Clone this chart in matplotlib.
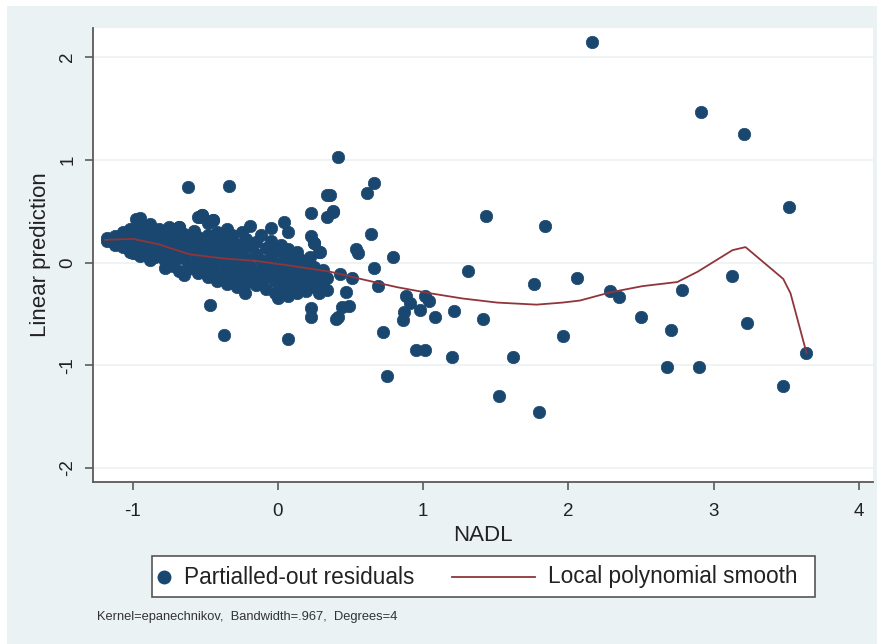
import matplotlib
matplotlib.use("Agg")
import matplotlib.pyplot as plt
from matplotlib.patches import Rectangle
from matplotlib.lines import Line2D

# ---------------- data ----------------
# dense cluster of partialled-out residuals (NADL, linear prediction)
cluster_x = [
    -1.18, -1.18,
    -1.12, -1.12, -1.12,
    -1.07, -1.07, -1.07,
    -1.02, -1.02, -1.02, -1.02,
    -0.98, -0.98, -0.98, -0.98, -0.98,
    -0.95, -0.95, -0.95, -0.95, -0.95,
    -0.92, -0.92, -0.92, -0.92,
    -0.88, -0.88, -0.88, -0.88, -0.88,
    -0.85, -0.85, -0.85, -0.85,
    -0.82, -0.82, -0.82, -0.82,
    -0.78, -0.78, -0.78, -0.78, -0.78,
    -0.75, -0.75, -0.75, -0.75,
    -0.72, -0.72, -0.72, -0.72,
    -0.68, -0.68, -0.68, -0.68, -0.68,
    -0.65, -0.65, -0.65, -0.65,
    -0.62, -0.62, -0.62, -0.62,
    -0.58, -0.58, -0.58, -0.58,
    -0.55, -0.55, -0.55, -0.55, -0.55,
    -0.52, -0.52, -0.52, -0.52,
    -0.48, -0.48, -0.48, -0.48, -0.48,
    -0.45, -0.45, -0.45, -0.45,
    -0.42, -0.42, -0.42, -0.42, -0.42,
    -0.38, -0.38, -0.38, -0.38,
    -0.35, -0.35, -0.35, -0.35, -0.35,
    -0.32, -0.32, -0.32, -0.32,
    -0.28, -0.28, -0.28, -0.28,
    -0.25, -0.25, -0.25, -0.25,
    -0.22, -0.22, -0.22, -0.22,
    -0.19, -0.19, -0.19, -0.19,
    -0.15, -0.15, -0.15, -0.15,
    -0.12, -0.12, -0.12, -0.12,
    -0.08, -0.08, -0.08, -0.08,
    -0.05, -0.05, -0.05, -0.05,
    -0.02, -0.02, -0.02, -0.02,
    0.02, 0.02, 0.02, 0.02,
    0.04, 0.04, 0.04, 0.04,
    0.07, 0.07, 0.07, 0.07, 0.07,
    0.10, 0.10, 0.10,
    0.13, 0.13, 0.13, 0.13,
    0.16, 0.16, 0.16,
    0.19, 0.19, 0.19,
    0.22, 0.22, 0.22, 0.22,
    0.25, 0.25, 0.25,
    0.28, 0.28, 0.28,
    0.31, 0.31,
    0.34, 0.34,
]
cluster_y = [
    0.24, 0.21,
    0.26, 0.20, 0.17,
    0.30, 0.22, 0.15,
    0.27, 0.19, 0.10, 0.33,
    0.42, 0.30, 0.24, 0.16, 0.09,
    0.35, 0.27, 0.20, 0.13, 0.06,
    0.31, 0.22, 0.14, 0.28,
    0.37, 0.25, 0.18, 0.10, 0.02,
    0.30, 0.21, 0.12, 0.05,
    0.33, 0.16, 0.08, 0.24,
    0.27, 0.19, 0.11, 0.01, -0.05,
    0.35, 0.22, 0.14, 0.06,
    0.30, 0.17, 0.09, -0.03,
    0.35, 0.25, 0.12, 0.04, -0.08,
    0.28, 0.19, 0.07, -0.12,
    0.23, 0.15, 0.00, -0.06,
    0.31, 0.18, 0.10, -0.02,
    0.44, 0.25, 0.13, 0.05, -0.10,
    0.46, 0.20, 0.08, -0.05,
    0.38, 0.27, 0.15, 0.02, -0.14,
    0.41, 0.22, 0.10, -0.04,
    0.30, 0.18, 0.06, -0.09, -0.18,
    0.25, 0.13, 0.01, -0.12,
    0.33, 0.20, 0.09, -0.06, -0.21,
    0.27, 0.15, 0.03, -0.15,
    0.18, 0.07, -0.04, -0.24,
    0.30, 0.12, -0.01, -0.13,
    0.23, 0.04, -0.08, -0.20,
    0.36, 0.16, -0.03, -0.16,
    0.20, 0.08, -0.10, -0.22,
    0.27, 0.02, -0.06, -0.19,
    0.14, -0.02, -0.14, -0.26,
    0.34, 0.21, 0.05, -0.09,
    0.11, -0.05, -0.18, -0.30,
    0.17, 0.00, -0.12, -0.23,
    0.39, 0.07, -0.08, -0.27,
    0.30, 0.13, -0.03, -0.16, -0.33,
    0.04, -0.10, -0.21,
    0.10, -0.06, -0.25, -0.30,
    0.02, -0.14, -0.19,
    -0.02, -0.11, -0.28,
    0.05, -0.08, -0.16, -0.24,
    0.19, -0.04, -0.20,
    -0.12, -0.30, 0.10,
    -0.07, -0.22,
    -0.15, -0.27,
]

# scattered residuals outside the main cluster
spread_x = [
    -0.62, -0.34, -0.95, -0.54, -0.52, -0.45, -0.68, -1.00,
    -0.47, -0.37, -0.23, 0.00, 0.07, 0.23, 0.23, 0.41, 0.16,
    0.34, 0.23, 0.34, 0.38, 0.23, 0.25, 0.29,
    0.41, 0.66, 0.61, 0.36, 0.38, 1.43, 1.84, 0.64, 0.54, 0.55, 0.79,
    0.43, 0.51, 0.66, 1.31, 1.76, 2.06, 0.69, 0.47, 0.44, 0.49, 0.40,
    0.88, 0.91, 1.01, 1.04, 0.87, 0.86, 0.98, 1.08, 1.21, 1.41,
    0.72, 0.95, 1.01, 1.20, 1.62, 1.96, 0.75, 1.52, 1.80,
    2.16, 2.91, 3.21, 3.52, 2.29, 2.35, 2.50, 2.78, 2.71, 2.68,
    2.90, 3.13, 3.23, 3.64, 3.48,
]
spread_y = [
    0.73, 0.74, 0.43, 0.44, 0.46, 0.41, 0.35, 0.09,
    -0.41, -0.71, -0.30, -0.35, -0.74, -0.44, -0.53, -0.53, 0.02,
    0.66, 0.48, 0.44, 0.49, 0.26, 0.19, 0.10,
    1.03, 0.77, 0.68, 0.66, 0.50, 0.45, 0.36, 0.28, 0.13, 0.09, 0.05,
    -0.11, -0.15, -0.05, -0.08, -0.21, -0.15, -0.23, -0.29, -0.43, -0.42, -0.55,
    -0.33, -0.39, -0.33, -0.37, -0.48, -0.56, -0.46, -0.53, -0.47, -0.55,
    -0.68, -0.85, -0.85, -0.92, -0.92, -0.72, -1.10, -1.30, -1.45,
    2.15, 1.46, 1.25, 0.54, -0.28, -0.34, -0.53, -0.27, -0.66, -1.02,
    -1.02, -0.13, -0.59, -0.88, -1.20,
]

# local polynomial smooth
smooth_x = [-1.19, -1.10, -1.00, -0.83, -0.61, -0.38, -0.15, 0.08, 0.36,
            0.60, 0.82, 1.05, 1.27, 1.51, 1.78, 1.96, 2.08, 2.29, 2.51,
            2.75, 2.89, 3.13, 3.22, 3.48, 3.53, 3.64]
smooth_y = [0.22, 0.225, 0.23, 0.18, 0.08, 0.04, 0.015, -0.03, -0.09,
            -0.17, -0.24, -0.30, -0.35, -0.39, -0.41, -0.39, -0.37, -0.29, -0.23,
            -0.19, -0.09, 0.12, 0.15, -0.16, -0.30, -0.88]

x_ticks = [-1, 0, 1, 2, 3, 4]
y_ticks = [-2, -1, 0, 1, 2]

# ---------------- style ----------------
W, H = 878, 644
BG = "#EAF2F3"
NAVY = "#1A476F"
MAROON = "#90353B"
plt.rcParams["font.family"] = ["Liberation Sans", "DejaVu Sans"]
plt.rcParams["axes.unicode_minus"] = False

fig = plt.figure(figsize=(W / 100, H / 100), dpi=100)
fig.patch.set_facecolor("white")
fig.add_artist(Rectangle((7 / W, 0), 1 - 7 / W, 1 - 6 / H, transform=fig.transFigure,
                         facecolor=BG, edgecolor="none", zorder=0))

def fx(px):
    return px / W

def fy(py):
    return 1 - py / H

ax = fig.add_axes([fx(93), fy(482), fx(873) - fx(93), fy(28) - fy(482)])
ax.set_facecolor("white")
ax.set_xlim(-1.274, 4.098)
ax.set_ylim(-2.136, 2.282)

ax.scatter(cluster_x + spread_x, cluster_y + spread_y, s=80, color=NAVY,
           edgecolors=NAVY, linewidths=0.5, zorder=3)
ax.plot(smooth_x, smooth_y, color=MAROON, lw=1.3, zorder=4)

ax.set_xticks(x_ticks)
ax.set_xticklabels([str(v) for v in x_ticks])
ax.set_yticks(y_ticks)
ax.set_yticklabels([str(v) for v in y_ticks], rotation=90, va="center")
ax.grid(axis="y", color="#EEF1F1", lw=1.2, zorder=0)
ax.set_axisbelow(True)
for s in ["top", "right"]:
    ax.spines[s].set_visible(False)
for s in ["left", "bottom"]:
    ax.spines[s].set_color("#5a5a5a")
    ax.spines[s].set_linewidth(1.3)
ax.tick_params(axis="both", colors="#5a5a5a", length=6, width=1.2,
               labelsize=13.5, labelcolor="#222222")
ax.tick_params(axis="x", pad=9)
ax.tick_params(axis="y", pad=6)
ax.set_xlabel("NADL", fontsize=16, color="#222222", labelpad=4)
ax.set_ylabel("Linear prediction", fontsize=16, color="#222222", labelpad=6)

# ---------------- legend (drawn manually) ----------------
fig.add_artist(Rectangle((fx(152), fy(597)), fx(815) - fx(152), fy(556) - fy(597),
                         transform=fig.transFigure, facecolor="white",
                         edgecolor="#555555", lw=1.2, zorder=5))
fig.add_artist(Line2D([fx(164)], [fy(577)], marker="o", ms=9, color=NAVY,
                      transform=fig.transFigure, zorder=6))
fig.text(fx(184), fy(577), "Partialled-out residuals", fontsize=16.3,
         color="#222222", va="center", ha="left", zorder=6)
fig.add_artist(Line2D([fx(452), fx(535)], [fy(577), fy(577)], color=MAROON, lw=1.3,
                      transform=fig.transFigure, zorder=6))
fig.text(fx(548), fy(577), "Local polynomial smooth", fontsize=16.3,
         color="#222222", va="center", ha="left", zorder=6)

fig.text(fx(97), fy(617), "Kernel=epanechnikov,  Bandwidth=.967,  Degrees=4",
         fontsize=9.3, color="#333333", va="center", ha="left")

fig.savefig("out.png", dpi=100, facecolor=fig.get_facecolor())
